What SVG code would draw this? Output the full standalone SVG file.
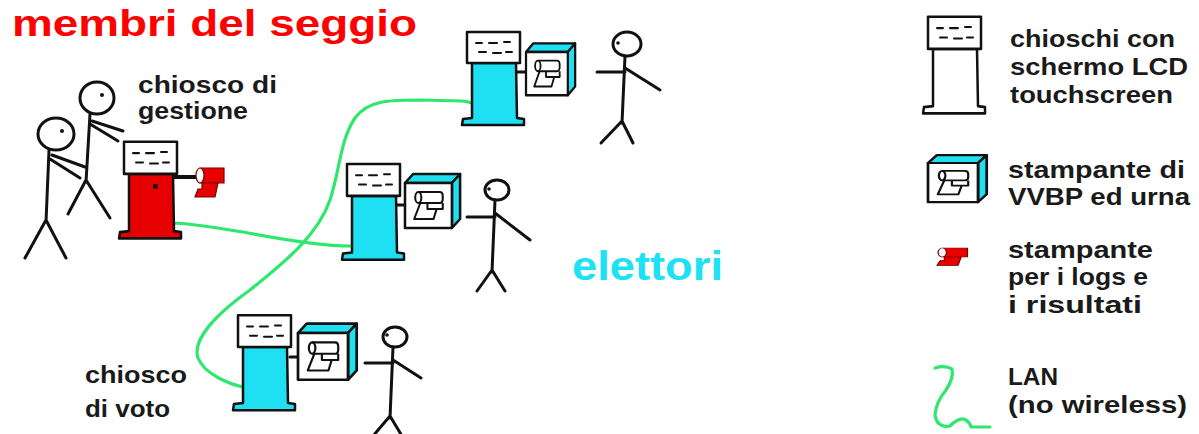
<svg xmlns="http://www.w3.org/2000/svg" xmlns:xlink="http://www.w3.org/1999/xlink" width="1199" height="434" viewBox="0 0 1199 434">
  <style>
    .ink { fill: none; stroke: #111; stroke-width: 3; stroke-linecap: round; stroke-linejoin: round; }
    .outline { stroke: #111; stroke-width: 2.5; stroke-linejoin: round; }
    .lan { fill: none; stroke: #2ee86e; stroke-width: 3.2; stroke-linecap: round; stroke-linejoin: round; }
    .eye { fill: #111; }
    text { font-family: "Liberation Sans", Arial, sans-serif; font-weight: bold; }
    .lbl { fill: #1a1a1a; font-size: 24px; }
    .title { fill: #ff0000; font-size: 37px; }
    .voters { fill: #1de1f4; font-size: 41px; }
  </style>
  <defs>
    <!-- touchscreen kiosk: LCD on top, pedestal body and foot; body colour comes from the fill of the <use> -->
    <symbol id="kiosk" overflow="visible">
      <path class="outline" d="M5 31 L5 86 L-4 87 L-5 93 L57 93 L57 87 L50 86 L49 31 Z"/>
      <rect class="outline" x="0" y="0" width="53" height="31" fill="#fff"/>
      <path fill="none" stroke="#111" stroke-width="2" stroke-linecap="round" d="M9 11h6 M22 11h8 M37 10h6 M12 20h7 M26 21h8 M39 20h6"/>
    </symbol>
    <!-- VVBP printer and ballot box -->
    <symbol id="vvbp" overflow="visible">
      <path class="outline" fill="#1ee0f2" d="M0 0 L8 -9 H54 L46 0 Z"/>
      <path class="outline" fill="#1ee0f2" d="M46 0 L54 -9 V36 L46 45 Z"/>
      <rect class="outline" x="0" y="0" width="46" height="45" fill="#fff"/>
      <g fill="none" stroke="#111" stroke-width="2" stroke-linejoin="round">
        <path d="M13 9 H34 Q37 9 37 13 V16 Q37 20 34 20 H13"/>
        <ellipse cx="13" cy="14.5" rx="3" ry="5.5"/>
        <path d="M22 20 V26 H37 V20"/>
        <path d="M15 20 L9 36 H28 L31 26"/>
      </g>
    </symbol>
    <!-- log / results printer -->
    <symbol id="logp" overflow="visible">
      <path fill="#e60000" stroke="#7a0000" stroke-width="1.2" d="M5 0 H29 V15 H5 Z"/>
      <ellipse cx="5" cy="7.5" rx="4" ry="7.5" fill="#fff" stroke="#7a0000" stroke-width="1.2"/>
      <path fill="#e60000" stroke="#7a0000" stroke-width="1.2" d="M7 15 H23 L20 29 H0 L3 21 H7 Z"/>
    </symbol>
  </defs>

  <rect width="1199" height="434" fill="#fff"/>

  <text class="title" x="12" y="36" textLength="405" lengthAdjust="spacingAndGlyphs">membri del seggio</text>

  <!-- network cabling -->
  <g id="connectors">
    <path class="lan" d="M172 223 C185 223 200 225 243 232 C280 239 320 246 350 246"/>
    <path class="lan" d="M243 387 C230 384 205 375 198 358 C192 340 215 315 250 290 C285 262 318 235 330 200 C340 170 340 140 355 118 C368 100 390 100 420 100 L462 101 Q470 102 474 104"/>
    <!-- kiosk to printer links -->
    <path class="ink" stroke-width="2.5" d="M517 72 H526 M397 205 H405 M290 357 H298"/>
    <path fill="none" stroke="#111" stroke-width="4" d="M173 177 H200"/>
  </g>

  <!-- poll workers -->
  <g id="worker-back" class="ink">
    <ellipse cx="97" cy="98" rx="17" ry="16" fill="#fff"/>
    <path d="M90 114 L86 182 M92 121 L123 131 M90 124 L118 141 M86 180 L68 214 M86 180 L110 218"/>
    <circle class="eye" cx="102" cy="95" r="2" stroke="none"/>
  </g>
  <g id="worker-front" class="ink">
    <ellipse cx="56" cy="134" rx="18" ry="16" fill="#fff"/>
    <path d="M49 150 L46 222 M52 155 L85 167 M50 159 L80 178 M46 220 L25 258 M46 220 L66 258"/>
    <circle class="eye" cx="62" cy="131" r="2" stroke="none"/>
  </g>

  <text class="lbl" x="138" y="93" textLength="139" lengthAdjust="spacingAndGlyphs" style="font-size:23px">chiosco di</text>
  <text class="lbl" x="138" y="119" textLength="110" lengthAdjust="spacingAndGlyphs" style="font-size:23px">gestione</text>

  <!-- management kiosk -->
  <g id="kiosk-management">
    <use xlink:href="#kiosk" x="124" y="142" fill="#e60000" transform="translate(0,-6) scale(1,1.04)"/>
    <rect x="153" y="184" width="4.5" height="4.5" fill="#111"/>
    <use xlink:href="#logp" x="195" y="168"/>
  </g>

  <!-- voting kiosks -->
  <g id="kiosk-top">
    <use xlink:href="#kiosk" x="467" y="32" fill="#1ee0f2"/>
    <use xlink:href="#vvbp" transform="translate(526 52) scale(0.91 0.96)"/>
  </g>
  <g id="kiosk-middle">
    <use xlink:href="#kiosk" x="347" y="164" fill="#1ee0f2" transform="translate(0,-5) scale(1,1.03)"/>
    <use xlink:href="#vvbp" transform="translate(405 183) scale(1.02 1)"/>
  </g>
  <g id="kiosk-bottom">
    <use xlink:href="#kiosk" x="238" y="315" fill="#1ee0f2" transform="translate(0,-6) scale(1,1.02)"/>
    <use xlink:href="#vvbp" transform="translate(298 333) scale(1.087 1.04)"/>
  </g>

  <!-- voters -->
  <g id="voter-top" class="ink">
    <ellipse cx="627" cy="44" rx="14" ry="12" fill="#fff"/>
    <path d="M625 56 L622 123 M597 72 H625 M625 68 L660 90 M622 121 L601 143 M622 121 L633 143"/>
    <circle class="eye" cx="618" cy="43" r="1.8" stroke="none"/>
  </g>
  <g id="voter-middle" class="ink">
    <ellipse cx="497" cy="190" rx="12" ry="10" fill="#fff"/>
    <path d="M495 200 L492 272 M467 217 H495 M495 213 L530 240 M492 270 L477 291 M492 270 L505 291"/>
    <circle class="eye" cx="489" cy="189" r="1.8" stroke="none"/>
  </g>
  <g id="voter-bottom" class="ink">
    <ellipse cx="395" cy="337" rx="12" ry="10" fill="#fff"/>
    <path d="M393 347 L390 418 M365 363 H393 M393 360 L421 378 M390 416 L373 436 M390 416 L402 436"/>
    <circle class="eye" cx="387" cy="335" r="1.8" stroke="none"/>
  </g>

  <text class="voters" x="572" y="280" textLength="151" lengthAdjust="spacingAndGlyphs">elettori</text>

  <text class="lbl" x="85" y="383" textLength="102" lengthAdjust="spacingAndGlyphs">chiosco</text>
  <text class="lbl" x="85" y="417" textLength="85" lengthAdjust="spacingAndGlyphs">di voto</text>

  <!-- legend -->
  <g id="legend-kiosk">
    <use xlink:href="#kiosk" x="928" y="17" fill="#fff" transform="translate(0,-1) scale(1,1.04)"/>
    <text class="lbl" x="1010" y="47" textLength="165" lengthAdjust="spacingAndGlyphs">chioschi con</text>
    <text class="lbl" x="1010" y="75" textLength="178" lengthAdjust="spacingAndGlyphs">schermo LCD</text>
    <text class="lbl" x="1010" y="103" textLength="163" lengthAdjust="spacingAndGlyphs">touchscreen</text>
  </g>
  <g id="legend-vvbp">
    <use xlink:href="#vvbp" transform="translate(928 163) scale(1.087 0.87)"/>
    <text class="lbl" x="1008" y="178" textLength="177" lengthAdjust="spacingAndGlyphs">stampante di</text>
    <text class="lbl" x="1008" y="205" textLength="182" lengthAdjust="spacingAndGlyphs">VVBP ed urna</text>
  </g>
  <g id="legend-logp">
    <use xlink:href="#logp" transform="translate(937 248) scale(1.05 0.6)"/>
    <text class="lbl" x="1008" y="258" textLength="145" lengthAdjust="spacingAndGlyphs">stampante</text>
    <text class="lbl" x="1008" y="285" textLength="140" lengthAdjust="spacingAndGlyphs">per i logs e</text>
    <text class="lbl" x="1008" y="313" textLength="134" lengthAdjust="spacingAndGlyphs">i risultati</text>
  </g>
  <g id="legend-lan">
    <path class="lan" d="M935 368 Q945 365 952 369 Q954 378 946 390 Q936 402 935 415 Q937 428 950 426 Q958 418 964 419 Q970 422 971 427 L990 427"/>
    <text class="lbl" x="1008" y="385" textLength="50" lengthAdjust="spacingAndGlyphs">LAN</text>
    <text class="lbl" x="1008" y="413" textLength="179" lengthAdjust="spacingAndGlyphs">(no wireless)</text>
  </g>
</svg>
